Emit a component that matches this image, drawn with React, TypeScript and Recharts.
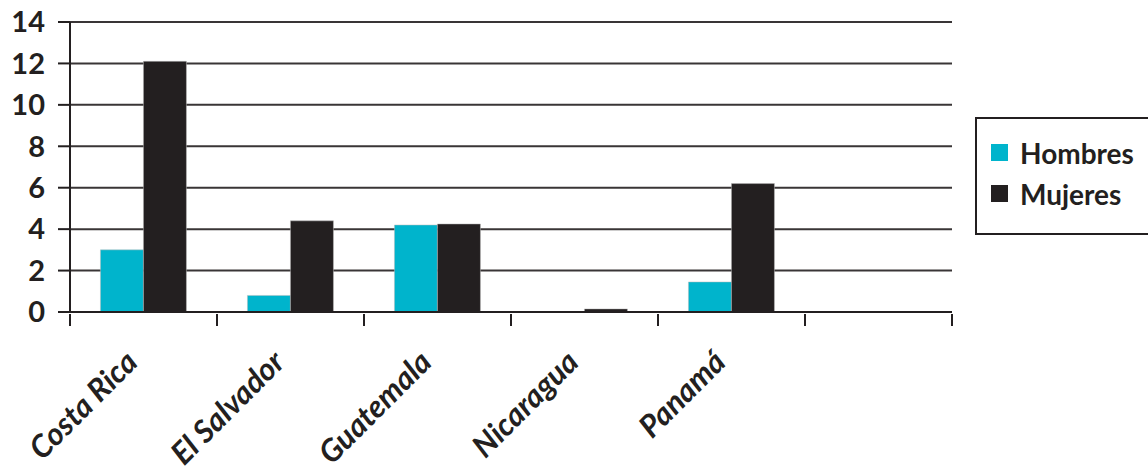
import React from "react";
import { BarChart, Bar, XAxis, YAxis, CartesianGrid } from "recharts";

const categories = ["Costa Rica", "El Salvador", "Guatemala", "Nicaragua", "Panamá", ""];
const hombres = [3.0, 0.8, 4.2, 0, 1.45, null];
const mujeres = [12.1, 4.4, 4.25, 0.15, 6.2, null];
const yTicks = [0, 2, 4, 6, 8, 10, 12, 14];

const data = categories.map((name, i) => ({
  name,
  Hombres: hombres[i],
  Mujeres: mujeres[i],
}));

const INK = "#231F20";
const CYAN = "#00B4CC";
const FONT = "Lato, 'Open Sans', sans-serif";

const CategoryTick = (props: any) => {
  const { x, y, payload, index, visibleTicksCount } = props;
  const half = payload && payload.offset ? payload.offset : 73.5;
  const axisY = y - 12;
  return (
    <g>
      <line x1={x - half} x2={x - half} y1={axisY} y2={axisY + 12} stroke={INK} strokeWidth={2} />
      {index === visibleTicksCount - 1 && (
        <line x1={x + half} x2={x + half} y1={axisY} y2={axisY + 12} stroke={INK} strokeWidth={2} />
      )}
      <text
        transform={`translate(${x - 4},${y + 38}) rotate(-45)`}
        textAnchor="end"
        fill={INK}
        fontFamily={FONT}
        fontWeight="bold"
        fontStyle="italic"
        fontSize={31}
      >
        {payload.value}
      </text>
    </g>
  );
};

const LegendBox = () => (
  <div
    style={{
      position: "absolute",
      left: 975,
      top: 117,
      width: 200,
      height: 118,
      border: `2px solid ${INK}`,
      background: "#fff",
      fontFamily: FONT,
      fontWeight: "bold",
      fontSize: 28,
      color: INK,
      boxSizing: "border-box",
      paddingLeft: 14,
      paddingTop: 13,
    }}
  >
    {[
      { label: "Hombres", color: CYAN },
      { label: "Mujeres", color: INK },
    ].map((item) => (
      <div key={item.label} style={{ display: "flex", alignItems: "center", height: 41 }}>
        <span style={{ width: 17, height: 17, background: item.color, marginRight: 12 }} />
        <span>{item.label}</span>
      </div>
    ))}
  </div>
);

export default function App() {
  return (
    <div style={{ position: "absolute", left: 0, top: 0, width: 1148, height: 466, overflow: "hidden", background: "#fff" }}>
      <BarChart
        width={1148}
        height={466}
        data={data}
        margin={{ top: 22, right: 196, bottom: 0, left: 0 }}
        barCategoryGap="20.7%"
        barGap={0}
      >
        <CartesianGrid horizontal vertical={false} stroke={INK} strokeWidth={2} strokeOpacity={0.9} />
        <XAxis
          dataKey="name"
          height={154}
          interval={0}
          axisLine={{ stroke: INK, strokeWidth: 2 }}
          tickLine={false}
          tickSize={12}
          tick={<CategoryTick />}
        />
        <YAxis
          width={70}
          domain={[0, 14]}
          ticks={yTicks}
          interval={0}
          axisLine={{ stroke: INK, strokeWidth: 2 }}
          tickLine={{ stroke: INK, strokeWidth: 2 }}
          tickSize={12}
          tickMargin={13}
          tick={{ fill: INK, fontFamily: FONT, fontWeight: "bold", fontSize: 29 }}
        />
        <Bar dataKey="Hombres" fill={CYAN} stroke="#bbb" strokeWidth={0.5} isAnimationActive={false} />
        <Bar dataKey="Mujeres" fill={INK} stroke="#bbb" strokeWidth={0.5} isAnimationActive={false} />
      </BarChart>
      <LegendBox />
    </div>
  );
}
